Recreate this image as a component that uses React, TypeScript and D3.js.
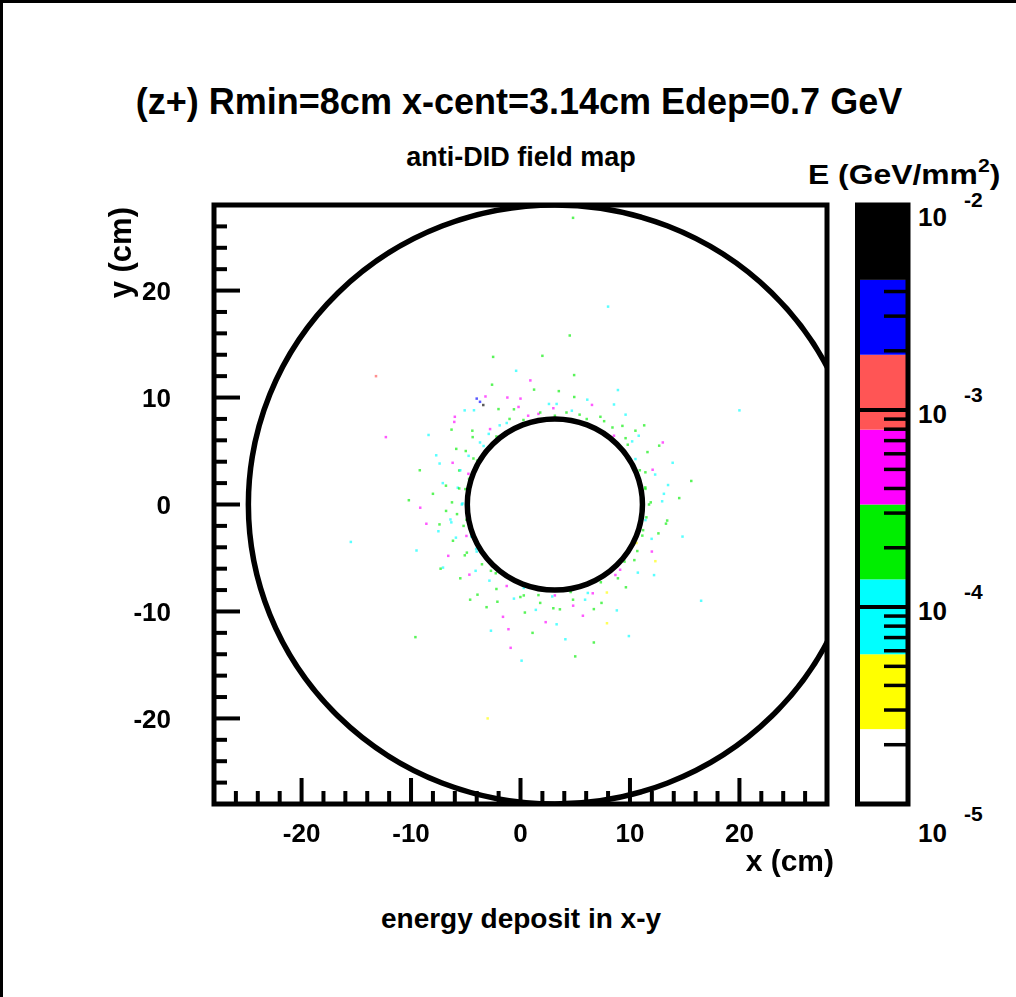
import React from "react";
import * as d3 from "d3";

// Axis ranges (cm) and colour-scale range (GeV/mm^2)
const xDomain: [number, number] = [-28, 28];
const yDomain: [number, number] = [-28, 28];
const zDomain: [number, number] = [1e-5, 1.1e-2];

// Contour palette, lowest level first
const palette = ["#ffffff", "#ffff00", "#00ffff", "#00ee00", "#ff00ff", "#ff5555", "#0000ff", "#000000"];

const xMajorTicks = [-20, -10, 0, 10, 20];
const yMajorTicks = [-20, -10, 0, 10, 20];
const zDecades = [-5, -4, -3, -2];

// Beam-pipe geometry (cm)
const ringCentreX = 3.14;
const innerRadius = 8;
const outerRadius = 28;

// Energy deposits hugging the inner ring: [x (cm), y (cm), E (GeV/mm^2)]
const ringHits: [number, number, number][] = [
  [11.74, 0.0, 2e-4], [12.94, 0.3, 1e-4], [11.41, 1.46, 2.2e-4], [13.48, 1.82, 1.1e-4],
  [11.41, 3.01, 2e-4], [12.07, 3.25, 5e-4], [10.5, 4.25, 1e-4], [12.67, 5.5, 2e-4],
  [9.8, 5.59, 2e-4], [10.8, 6.43, 1e-4], [8.54, 6.43, 5e-4], [9.31, 7.35, 2e-4],
  [7.64, 7.79, 2e-4], [8.54, 9.35, 1.1e-4], [6.05, 7.99, 2e-4], [6.53, 9.31, 5e-4],
  [4.69, 8.77, 1.1e-4], [4.91, 10.05, 2e-4], [3.14, 8.3, 2e-4], [3.3, 9.4, 1e-4],
  [1.64, 8.47, 5e-4], [1.24, 10.74, 2e-4], [0.27, 7.9, 2e-4], [-0.18, 9.12, 5e-4],
  [-1.26, 7.62, 1e-4], [-2.01, 8.92, 2e-4],
  [-2.2, 6.36, 2e-4], [-2.78, 7.05, 5e-4], [-4.25, 8.81, 1e-4],
  [-3.37, 5.47, 1.1e-4], [-4.37, 6.3, 2e-4], [-6.05, 7.72, 5e-4],
  [-3.96, 4.1, 2e-4], [-4.74, 4.55, 1e-4], [-5.87, 5.2, 2e-4],
  [-4.76, 2.87, 5e-4], [-5.6, 3.18, 2e-4], [-7.39, 3.83, 1e-4],
  [-5.04, 1.44, 2e-4], [-5.73, 1.57, 1.1e-4], [-6.81, 1.76, 2e-4],
  [-5.36, 0.0, 1e-4], [-6.26, 0.2, 2e-4], [-9.16, -0.3, 5e-4],
  [-4.94, -1.43, 2e-4], [-6.32, -1.67, 1e-4], [-7.4, -1.86, 2e-4],
  [-4.94, -2.94, 5e-4], [-6.17, -3.39, 2e-4],
  [-4.05, -4.15, 1e-4], [-5.09, -4.75, 2e-4], [-7.08, -5.9, 1.1e-4],
  [-3.52, -5.59, 2e-4], [-4.67, -6.56, 5e-4],
  [-2.26, -6.43, 2e-4], [-2.84, -7.12, 1e-4], [-3.93, -8.43, 2e-4],
  [-1.26, -7.62, 5e-4], [-2.11, -9.09, 2e-4],
  [0.3, -7.8, 1e-4], [-0.01, -8.65, 2e-4], [-1.1, -11.66, 5e-4],
  [1.64, -8.47, 2e-4], [1.4, -9.85, 1.1e-4],
  [3.14, -8.5, 5e-4], [3.0, -9.7, 2e-4], [3.3, -11.2, 1e-4],
  [4.58, -8.18, 2e-4], [4.81, -9.46, 5e-4], [6.15, -8.27, 1e-4], [6.7, -9.78, 2e-4],
  [7.34, -7.27, 2e-4], [7.89, -8.23, 4e-5], [8.67, -6.59, 5e-4], [9.63, -7.74, 2e-4],
  [9.5, -5.34, 2e-4], [10.72, -6.37, 1e-4], [10.67, -4.35, 2e-4], [12.32, -5.3, 4e-5],
  [11.13, -2.91, 2e-4], [11.98, -3.21, 1.1e-4], [11.41, -1.46, 1e-4], [13.29, -1.79, 2e-4],
];

// Wider halo of deposits and isolated hits: [x (cm), y (cm), E (GeV/mm^2)]
const haloHits: [number, number, number][] = [
  [-3.7, 9.6, 4e-3], [-3.4, 9.3, 6e-3], [-4.0, 9.9, 3e-3], [-3.2, 10.1, 5e-4], [-1.2, 10.0, 5e-4],
  [0.0, 9.9, 6e-4], [0.7, 8.3, 4e-4], [1.8, 8.6, 2e-4], [4.2, 8.6, 2e-4], [5.4, 8.4, 2.5e-4],
  [7.3, 8.2, 1.5e-4], [8.4, 7.2, 2e-4], [-1.9, 7.4, 1.2e-4], [-0.6, 8.9, 2e-4], [2.6, 9.4, 1e-4],
  [3.5, 10.6, 2e-4], [6.1, 9.8, 1e-4], [-2.6, 11.2, 2e-4], [0.9, 11.6, 5e-4], [-5.1, 8.8, 1.1e-4],
  [9.6, 8.4, 1.2e-4], [10.5, 6.9, 2e-4], [-0.4, 12.5, 1e-4], [4.9, 12.1, 2e-4], [-6.3, 7.0, 2e-4],
  [8.9, 10.7, 1e-4], [-2.5, 13.8, 2e-4], [2.0, 13.9, 1.5e-4],
  [-3.7, 5.8, 1e-4], [-5.5, 3.2, 1e-4], [-5.3, 0.1, 1.1e-4], [-6.4, -1.4, 1.2e-4], [-5.0, 5.0, 2e-4],
  [-4.7, 2.4, 2.2e-4], [-5.6, 1.5, 2e-4], [-6.2, 3.9, 5e-4], [-7.1, 2.0, 1.1e-4], [-6.8, -0.6, 2e-4],
  [-5.2, -2.0, 2.2e-4], [-5.9, -3.1, 1.1e-4], [-4.9, -4.5, 2e-4], [-6.6, -4.8, 5e-4], [-7.5, -2.5, 1e-4],
  [-8.0, 1.0, 2e-4], [-7.7, 4.6, 1.2e-4], [-4.4, 6.9, 2e-4], [-8.6, -1.8, 5e-4], [-7.3, -6.0, 2e-4],
  [-4.1, -6.2, 1.1e-4], [-9.2, 3.2, 2e-4], [-8.4, 6.5, 1e-4], [-6.0, 8.2, 5e-4], [-9.5, -4.3, 1e-4],
  [-10.2, 0.4, 2e-4], [-5.5, -6.9, 2e-4],
  [-1.6, -10.5, 5e-4], [6.6, -8.3, 6e-4], [9.1, -6.1, 5e-4], [1.8, -9.2, 2e-4], [4.8, -8.9, 2e-4],
  [7.9, -11.1, 4e-5], [-2.2, -7.9, 2e-4], [-0.6, -8.8, 1.1e-4], [0.4, -10.1, 2e-4], [2.9, -8.6, 1e-4],
  [3.6, -9.8, 2e-4], [5.7, -10.4, 5e-4], [7.4, -9.2, 2e-4], [-3.1, -9.6, 2e-4], [-2.7, -11.8, 1.1e-4],
  [1.1, -12.0, 2e-4], [4.1, -12.6, 1e-4], [6.7, -12.9, 2e-4], [-0.9, -13.4, 5e-4], [8.8, -9.9, 1.1e-4],
  [2.3, -11.0, 5e-4], [-4.6, -8.9, 2e-4], [0.1, -14.6, 1e-4], [5.0, -14.2, 2e-4], [9.9, -12.3, 1e-4],
  [11.4, 1.6, 2.2e-4], [11.5, -1.2, 2.5e-4], [10.9, 3.2, 2e-4], [10.6, -3.6, 4e-5], [11.9, 0.2, 2e-4],
  [12.3, 2.8, 1.1e-4], [11.6, 4.9, 2e-4], [12.6, -2.7, 2e-4], [10.2, 5.9, 1e-4], [10.4, -5.2, 2e-4],
  [13.1, 1.0, 1.1e-4], [12.0, -4.4, 5e-4], [13.4, -1.5, 2e-4], [13.9, 3.9, 1e-4], [11.3, 7.4, 2e-4],
  [12.2, -6.6, 1e-4], [14.5, 0.6, 2e-4], [13.0, 5.8, 5e-4], [14.8, -3.0, 1e-4], [15.6, 2.2, 2e-4],
  [-2.7, -6.2, 2e-4], [-4.0, -4.4, 1.1e-4], [8.9, -6.9, 2e-4], [-4.5, -3.0, 1.1e-4], [-4.3, 4.3, 2e-4],
  [-2.9, 6.6, 1e-4], [9.6, 6.2, 2e-4], [11.2, -2.4, 2e-4], [0.3, -8.5, 2e-4], [5.9, -8.9, 1e-4],
  [-1.0, 8.0, 2e-4], [3.0, 9.0, 5e-4], [-5.8, -0.9, 2e-4],
  [-13.2, 12.0, 1.5e-3], [-12.3, 6.3, 5e-4], [4.5, 15.8, 2e-4], [4.8, 26.8, 2e-4], [20.0, 8.8, 1e-4],
  [-9.6, -12.4, 2e-4], [16.5, -9.0, 1e-4], [-15.5, -3.5, 1e-4], [8.0, 18.5, 1e-4], [-3.0, -20.0, 4e-5],
];

const FONT = "'Liberation Sans', Arial, Helvetica, sans-serif";

export default function App() {
  const W = 1016;
  const H = 997;
  const frame = { left: 214, right: 827, top: 205, bottom: 804 };
  const bar = { left: 857.5, right: 908 };

  const x = d3.scaleLinear().domain(xDomain).range([frame.left, frame.right]);
  const y = d3.scaleLinear().domain(yDomain).range([frame.bottom, frame.top]);
  const z = d3.scaleLog().domain(zDomain).range([frame.bottom, frame.top]);

  // Equal-in-log contour levels
  const lz0 = Math.log10(zDomain[0]);
  const lz1 = Math.log10(zDomain[1]);
  const levels = d3.range(palette.length + 1).map((i) => Math.pow(10, lz0 + (i * (lz1 - lz0)) / palette.length));
  const colour = d3.scaleThreshold<number, string>().domain(levels.slice(1, -1)).range(palette);

  const xMinor = d3.range(xDomain[0], xDomain[1] + 0.001, 2);
  const yMinor = d3.range(yDomain[0], yDomain[1] + 0.001, 2);
  const majLen = 26;
  const minLen = 13;

  const zMinor: number[] = [];
  zDecades.forEach((k) => {
    for (let m = 2; m <= 9; m++) {
      const v = m * Math.pow(10, k);
      if (v < zDomain[1]) zMinor.push(v);
    }
  });

  const ellipse = (r: number) => ({
    cx: x(ringCentreX),
    cy: y(0),
    rx: x(ringCentreX + r) - x(ringCentreX),
    ry: y(0) - y(r),
  });
  const inner = ellipse(innerRadius);
  const outer = ellipse(outerRadius);

  const hits = [...ringHits, ...haloHits];

  return (
    <svg width={W} height={H} style={{ position: "absolute", left: 0, top: 0, background: "#fff" }} fontFamily={FONT} fontWeight="bold">
      <defs>
        <clipPath id="frameClip">
          <rect x={frame.left} y={frame.top} width={frame.right - frame.left} height={frame.bottom - frame.top} />
        </clipPath>
        <filter id="soft" x="-50%" y="-50%" width="200%" height="200%">
          <feGaussianBlur stdDeviation={0.45} />
        </filter>
      </defs>

      {/* canvas border */}
      <path d={`M1.5,${H} V1.5 H${W}`} fill="none" stroke="#000" strokeWidth={3} />

      {/* title */}
      <text x={519} y={114} textAnchor="middle" fontSize={36}>(z+) Rmin=8cm x-cent=3.14cm Edep=0.7 GeV</text>
      <text x={521} y={166} textAnchor="middle" fontSize={27}>anti-DID field map</text>

      {/* energy deposits */}
      <g clipPath="url(#frameClip)">
        <g filter="url(#soft)">
          {hits.map(([hx, hy, he], i) => (
            <rect key={i} x={x(hx) - 1.25} y={y(hy) - 1.25} width={2.5} height={2.5} fill={colour(he)} opacity={0.65} />
          ))}
        </g>
        <ellipse {...outer} fill="none" stroke="#000" strokeWidth={5.5} />
        <ellipse {...inner} fill="none" stroke="#000" strokeWidth={5.5} />
      </g>

      {/* x axis ticks */}
      {xMinor.map((t) => {
        const major = xMajorTicks.includes(t);
        return (
          <line key={`xt${t}`} x1={x(t)} x2={x(t)} y1={frame.bottom} y2={frame.bottom - (major ? majLen : minLen)} stroke="#000" strokeWidth={4} />
        );
      })}
      {/* y axis ticks */}
      {yMinor.map((t) => {
        const major = yMajorTicks.includes(t);
        return (
          <line key={`yt${t}`} y1={y(t)} y2={y(t)} x1={frame.left} x2={frame.left + (major ? majLen : minLen)} stroke="#000" strokeWidth={4} />
        );
      })}

      {/* frame */}
      <rect x={frame.left} y={frame.top} width={frame.right - frame.left} height={frame.bottom - frame.top} fill="none" stroke="#000" strokeWidth={5} />

      {/* tick labels */}
      {xMajorTicks.map((t) => (
        <text key={`xl${t}`} x={x(t)} y={842} textAnchor="middle" fontSize={26}>{t}</text>
      ))}
      {yMajorTicks.map((t) => (
        <text key={`yl${t}`} x={171} y={y(t) + 9.5} textAnchor="end" fontSize={26}>{t}</text>
      ))}

      {/* axis titles */}
      <text x={834} y={871} textAnchor="end" fontSize={30}>x (cm)</text>
      <text transform="translate(131,207) rotate(-90)" textAnchor="end" fontSize={31}>y (cm)</text>

      {/* colour bar */}
      {palette.map((c, i) => (
        <rect key={`band${i}`} x={bar.left} width={bar.right - bar.left} y={z(levels[i + 1])} height={z(levels[i]) - z(levels[i + 1])} fill={c} />
      ))}
      {zMinor.map((v) => (
        <line key={`zm${v}`} x1={bar.right} x2={bar.right - 24} y1={z(v)} y2={z(v)} stroke="#000" strokeWidth={3.5} />
      ))}
      {zDecades.map((k) => (
        <line key={`zM${k}`} x1={bar.left} x2={bar.right} y1={z(Math.pow(10, k))} y2={z(Math.pow(10, k))} stroke="#000" strokeWidth={4} />
      ))}
      <rect x={bar.left} y={frame.top} width={bar.right - bar.left} height={frame.bottom - frame.top} fill="none" stroke="#000" strokeWidth={5} />
      {zDecades.map((k, i) => {
        const base = z(Math.pow(10, k)) + (i === 0 ? 38 : 13);
        const top = i === zDecades.length - 1;
        return (
          <g key={`zl${k}`}>
            <text x={918} y={base} fontSize={26}>10</text>
            <text x={964} y={base - (top ? 19 : 21)} fontSize={21}>{k}</text>
          </g>
        );
      })}
      <g transform="translate(808,184) scale(1.18,1)">
        <text x={0} y={0} fontSize={27}>
          E (GeV/mm
          <tspan fontSize={18} dy={-12}>2</tspan>
          <tspan dy={12}>)</tspan>
        </text>
      </g>

      {/* footer */}
      <text x={521} y={928} textAnchor="middle" fontSize={28}>energy deposit in x-y</text>
    </svg>
  );
}
